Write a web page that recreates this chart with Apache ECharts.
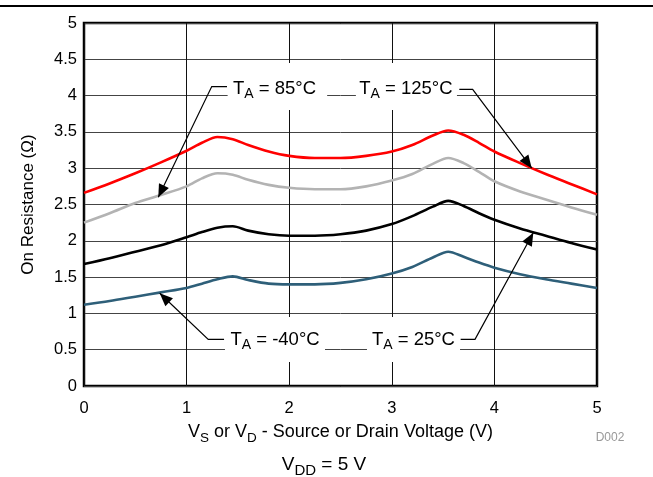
<!DOCTYPE html>
<html>
<head>
<meta charset="utf-8">
<script src="https://cdn.jsdelivr.net/npm/echarts@6/dist/echarts.min.js"></script>
<style>
html,body{margin:0;padding:0;background:#fff;}
#c{width:653px;height:477px;}
</style>
</head>
<body>
<div id="c"></div>
<script>
const voltage = [0, 0.25, 0.5, 0.75, 1.0, 1.15, 1.3, 1.45, 1.6, 1.8, 2.0, 2.25, 2.5, 2.75, 3.0, 3.2, 3.4, 3.55, 3.7, 3.85, 4.0, 4.25, 4.5, 4.75, 5.0];
const r125 = [2.66, 2.79, 2.93, 3.08, 3.24, 3.35, 3.43, 3.40, 3.32, 3.23, 3.17, 3.14, 3.14, 3.17, 3.23, 3.32, 3.45, 3.52, 3.46, 3.35, 3.23, 3.07, 2.92, 2.78, 2.64];
const r85 = [2.25, 2.38, 2.52, 2.63, 2.75, 2.86, 2.93, 2.91, 2.84, 2.77, 2.73, 2.71, 2.71, 2.75, 2.83, 2.92, 3.06, 3.14, 3.07, 2.95, 2.82, 2.68, 2.57, 2.46, 2.36];
const r25 = [1.68, 1.76, 1.85, 1.94, 2.05, 2.12, 2.18, 2.20, 2.14, 2.09, 2.07, 2.07, 2.09, 2.14, 2.23, 2.34, 2.47, 2.55, 2.48, 2.38, 2.29, 2.17, 2.07, 1.97, 1.88];
const rm40 = [1.12, 1.17, 1.23, 1.29, 1.35, 1.41, 1.47, 1.51, 1.46, 1.41, 1.40, 1.40, 1.42, 1.47, 1.55, 1.64, 1.77, 1.85, 1.78, 1.70, 1.63, 1.54, 1.47, 1.41, 1.35];
const xTicks = [0, 1, 2, 3, 4, 5];
const yTicks = [0, 0.5, 1, 1.5, 2, 2.5, 3, 3.5, 4, 4.5, 5];

// annotation callouts in data space: label centre, white box corners, leader path ending at arrow tip
const callouts = [
  {temp: '85', label: [1.857, 4.08], box: [[1.40, 4.45], [2.37, 3.80]], path: [[1.394, 4.125], [1.245, 4.125], [0.724, 2.60]]},
  {temp: '125', label: [3.138, 4.08], box: [[2.65, 4.45], [3.635, 3.80]], path: [[3.658, 4.087], [3.788, 4.087], [4.364, 3.0]]},
  {temp: '-40', label: [1.862, 0.62], box: [[1.374, 0.95], [2.349, 0.331]], path: [[1.365, 0.643], [1.211, 0.643], [0.738, 1.277]]},
  {temp: '25', label: [3.211, 0.62], box: [[2.758, 0.95], [3.665, 0.331]], path: [[3.671, 0.643], [3.811, 0.643], [4.379, 2.112]]}
];

const FONT = '"Liberation Sans", Arial, sans-serif';
const chart = echarts.init(document.getElementById('c'));

function pairs(ys) { return voltage.map((v, i) => [v, ys[i]]); }

function richPair(main, sub, drop) {
  return {
    m: {fontSize: main, fontFamily: FONT, color: '#000', fill: '#000', verticalAlign: 'top', lineHeight: main + 3},
    s: {fontSize: sub, fontFamily: FONT, color: '#000', fill: '#000', verticalAlign: 'top', lineHeight: sub, padding: [drop, 0, 0, 0]}
  };
}

const option = {
  animation: false,
  backgroundColor: '#fff',
  textStyle: {fontFamily: FONT},
  grid: {left: 84, right: 56, top: 23, bottom: 91, show: true, borderColor: '#000', borderWidth: 2.5, backgroundColor: 'transparent'},
  xAxis: {
    type: 'value', min: 0, max: 5, interval: 1,
    axisLine: {show: false},
    axisTick: {show: false},
    splitLine: {show: true, lineStyle: {color: '#111', width: 1}},
    axisLabel: {color: '#000', fontSize: 16.5, fontFamily: FONT, margin: 14, formatter: v => xTicks.includes(v) ? String(v) : ''},
    name: '{m|V}{s|S}{m| or V}{s|D}{m| - Source or Drain Voltage (V)}',
    nameLocation: 'middle', nameGap: 37,
    nameTextStyle: {color: '#000', fontFamily: FONT, rich: richPair(18, 13.5, 8)}
  },
  yAxis: {
    type: 'value', min: 0, max: 5, interval: 0.5,
    axisLine: {show: false},
    axisTick: {show: false},
    splitLine: {show: true, lineStyle: {color: '#444', width: 1}},
    axisLabel: {color: '#000', fontSize: 16.5, fontFamily: FONT, margin: 7, formatter: v => yTicks.includes(v) ? String(v) : ''},
    name: 'On Resistance (\u03A9)',
    nameLocation: 'middle', nameGap: 47,
    nameTextStyle: {color: '#000', fontSize: 17, fontFamily: FONT}
  },
  series: [
    {name: 'TA = 125°C', type: 'line', data: pairs(r125), smooth: 0.3, showSymbol: false, lineStyle: {color: '#ff0000', width: 2.6}, z: 5},
    {name: 'TA = 85°C', type: 'line', data: pairs(r85), smooth: 0.3, showSymbol: false, lineStyle: {color: '#b3b3b3', width: 2.6}, z: 5},
    {name: 'TA = 25°C', type: 'line', data: pairs(r25), smooth: 0.3, showSymbol: false, lineStyle: {color: '#000000', width: 2.6}, z: 5},
    {name: 'TA = -40°C', type: 'line', data: pairs(rm40), smooth: 0.3, showSymbol: false, lineStyle: {color: '#2e5f79', width: 2.6}, z: 5}
  ]
};
chart.setOption(option);

function px(p) { return chart.convertToPixel({gridIndex: 0}, p); }

const graphics = [];
// top page rule
graphics.push({type: 'line', shape: {x1: 0, y1: 6, x2: 653, y2: 6}, style: {stroke: '#000', lineWidth: 2}, z: 10});

callouts.forEach(c => {
  const b0 = px(c.box[0]), b1 = px(c.box[1]);
  graphics.push({type: 'rect', shape: {x: b0[0], y: b0[1], width: b1[0] - b0[0], height: b1[1] - b0[1]}, style: {fill: '#fff'}, z: 20});
  const pts = c.path.map(px);
  graphics.push({type: 'polyline', shape: {points: pts}, style: {stroke: '#000', lineWidth: 1.2, fill: null}, z: 21});
  const tip = pts[pts.length - 1], prev = pts[pts.length - 2];
  const dx = tip[0] - prev[0], dy = tip[1] - prev[1];
  const L = Math.sqrt(dx * dx + dy * dy), ux = dx / L, uy = dy / L;
  const al = 13, aw = 5.5;
  const bx = tip[0] - ux * al, by = tip[1] - uy * al;
  graphics.push({type: 'polygon', shape: {points: [tip, [bx - uy * aw, by + ux * aw], [bx + uy * aw, by - ux * aw]]}, style: {fill: '#000'}, z: 22});
  const lp = px(c.label);
  graphics.push({
    type: 'text', x: lp[0], y: lp[1], z: 23,
    style: {
      text: '{m|T}{s|A}{m| = ' + c.temp + '\u00B0C}',
      align: 'center', verticalAlign: 'middle',
      rich: richPair(18.5, 14, 8)
    }
  });
});

graphics.push({type: 'text', x: 610, y: 438, z: 23, style: {text: 'D002', fontSize: 12, fontFamily: FONT, fill: '#999', align: 'center', verticalAlign: 'middle'}});
graphics.push({
  type: 'text', x: 324, y: 466, z: 23,
  style: {
    text: '{m|V}{s|DD}{m| = 5 V}', align: 'center', verticalAlign: 'middle',
    rich: richPair(19, 15, 8)
  }
});

chart.setOption({graphic: graphics});
</script>
</body>
</html>
